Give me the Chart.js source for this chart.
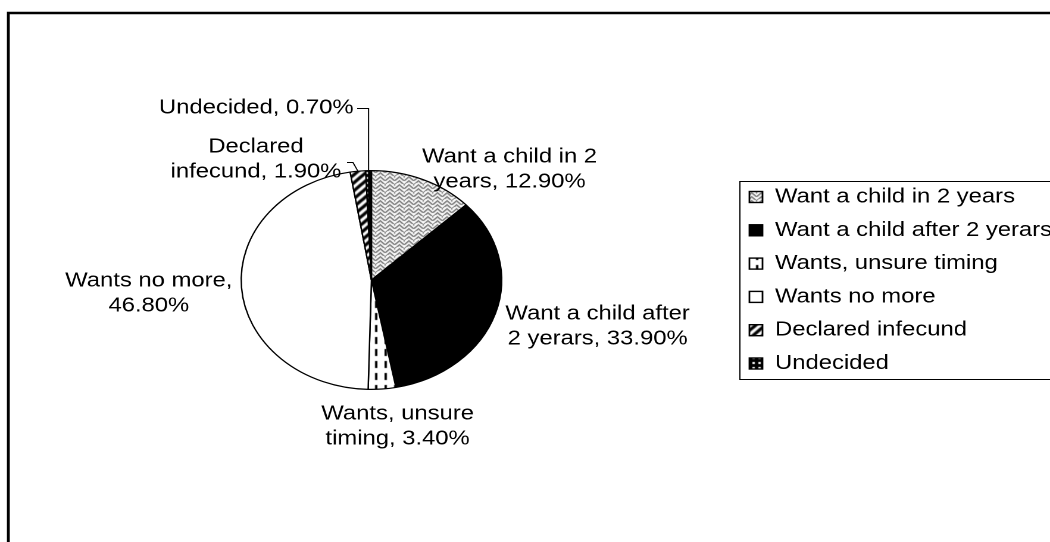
<!DOCTYPE html>
<html>
<head>
<meta charset="utf-8">
<script src="https://cdn.jsdelivr.net/npm/chart.js@4.4.1/dist/chart.umd.min.js"></script>
<style>
  html, body { margin: 0; padding: 0; background: #fff; }
  canvas { display: block; }
</style>
</head>
<body>
<canvas id="pie" width="882" height="542" style="width:1050px;height:542px"></canvas>
<script>
const labels = ['Want a child in 2 years', 'Want a child after 2 yerars', 'Wants, unsure timing', 'Wants no more', 'Declared infecund', 'Undecided'];
const values = [12.9, 33.9, 3.4, 46.8, 1.9, 0.7];
// how many words go on the first line of each data label (0 = one line)
const wordsFirstLine = [5, 4, 2, 3, 1, 0];

const FONT = "20px 'Liberation Sans', Arial, sans-serif";

// small pattern tiles like the old office fills
function tile(w, h, draw) {
    const c = document.createElement('canvas');
    c.width = w; c.height = h;
    const t = c.getContext('2d');
    draw(t, w, h);
    return c;
}
const helper = document.createElement('canvas').getContext('2d');
const weave = helper.createPattern(tile(8, 8, function(t) {
    t.fillStyle = '#fff'; t.fillRect(0, 0, 8, 8);
    t.fillStyle = '#5a5a5a';
    // stepped chevrons, a rough weave
    const px = [[0,1],[1,2],[2,3],[3,4],[4,3],[5,2],[6,1],[7,0],
                [0,5],[1,6],[2,7],[6,5],[7,4],[3,0],[4,7],[5,6]];
    px.forEach(function(p) { t.fillRect(p[0], p[1], 1, 1); });
    t.fillStyle = '#9a9a9a';
    [[0,2],[1,3],[2,4],[4,4],[5,3],[6,2],[7,1],[0,6],[1,7],[6,6],[7,5],[3,1]].forEach(function(p) { t.fillRect(p[0], p[1], 1, 1); });
}), 'repeat');
const dashedVert = helper.createPattern(tile(8, 12, function(t) {
    t.fillStyle = '#fff'; t.fillRect(0, 0, 8, 12);
    t.fillStyle = '#000'; t.fillRect(3, 1, 2, 7);
}), 'repeat');
const wideUp = helper.createPattern(tile(8, 8, function(t) {
    t.fillStyle = '#fff'; t.fillRect(0, 0, 8, 8);
    t.strokeStyle = '#000'; t.lineWidth = 3;
    t.beginPath();
    t.moveTo(-1, 9); t.lineTo(9, -1);
    t.moveTo(-5, 5); t.lineTo(5, -5);
    t.moveTo(3, 13); t.lineTo(13, 3);
    t.stroke();
}), 'repeat');
const dots = helper.createPattern(tile(5, 5, function(t) {
    t.fillStyle = '#000'; t.fillRect(0, 0, 5, 5);
    t.fillStyle = '#fff'; t.fillRect(2, 2, 2, 2);
}), 'repeat');
const fills = [weave, '#000', dashedVert, '#fff', wideUp, dots];

const labelLines = labels.map(function(l, i) {
    const words = (l + ', ' + values[i].toFixed(2) + '%').split(' ');
    const n = wordsFirstLine[i];
    return n ? [words.slice(0, n).join(' '), words.slice(n).join(' ')] : [words.join(' ')];
});

// label anchor (centre x, first line y) per slice
const labelAt = [[428, 157], [502, 314], [334, 414], [125, 281], [215, 147], [297, 108]];

const decor = {
    id: 'decor',
    beforeDraw(chart) {
        const ctx = chart.ctx;
        ctx.save();
        ctx.fillStyle = '#fff';
        ctx.fillRect(0, 0, chart.width, chart.height);
        ctx.restore();
    },
    afterDraw(chart) {
        const ctx = chart.ctx;
        const arcs = chart.getDatasetMeta(0).data;
        ctx.save();
        // outer frame (right/bottom edges fall outside the picture)
        ctx.strokeStyle = '#000';
        ctx.lineWidth = 2.4;
        ctx.beginPath();
        ctx.moveTo(7, chart.height + 5);
        ctx.lineTo(7, 13);
        ctx.lineTo(chart.width + 5, 13);
        ctx.stroke();

        // data labels
        ctx.font = FONT;
        ctx.fillStyle = '#000';
        ctx.textBaseline = 'middle';
        labelLines.forEach(function(lines, i) {
            const p = labelAt[i];
            ctx.textAlign = lines.length > 1 ? 'center' : 'right';
            lines.forEach(function(s, k) {
                ctx.fillText(s, p[0], p[1] + k * 25);
            });
        });

        // leader lines for the two thin slices
        function edge(a) {
            const mid = (a.startAngle + a.endAngle) / 2;
            return [a.x + Math.cos(mid) * a.outerRadius, a.y + Math.sin(mid) * a.outerRadius];
        }
        ctx.lineWidth = 1;
        const u = edge(arcs[5]);
        ctx.beginPath();
        ctx.moveTo(300, 108.5);
        ctx.lineTo(u[0], 108.5);
        ctx.lineTo(u[0], u[1]);
        ctx.stroke();
        const d = edge(arcs[4]);
        ctx.beginPath();
        ctx.moveTo(291.5, 162.5);
        ctx.lineTo(296.5, 162.5);
        ctx.lineTo(d[0], d[1]);
        ctx.stroke();

        // legend
        ctx.lineWidth = 1;
        ctx.strokeRect(621.5, 181.5, chart.width, 198);
        ctx.textAlign = 'left';
        labels.forEach(function(l, i) {
            const y = 197 + i * 33.3;
            ctx.fillStyle = fills[i];
            ctx.fillRect(629, y - 6, 12, 12);
            ctx.strokeStyle = '#000';
            ctx.lineWidth = 1.4;
            ctx.strokeRect(629.5, y - 5.5, 11, 11);
            ctx.fillStyle = '#000';
            ctx.fillText(l, 651, y);
        });
        ctx.restore();
    }
};

const canvas = document.querySelector('#pie');
const ctx = canvas.getContext('2d');
const config = {
    type: 'pie',
    data: {
        labels: labels,
        datasets: [{
            data: values,
            backgroundColor: fills,
            borderColor: '#000',
            borderWidth: 1.2
        }]
    },
    options: {
        responsive: false,
        animation: false,
        devicePixelRatio: 2,
        layout: { padding: { left: 202, right: 460, top: 170, bottom: 152 } },
        plugins: {
            legend: { display: false },
            tooltip: { enabled: false }
        }
    },
    plugins: [decor]
};
const chart = new Chart(ctx, config);
</script>
</body>
</html>
